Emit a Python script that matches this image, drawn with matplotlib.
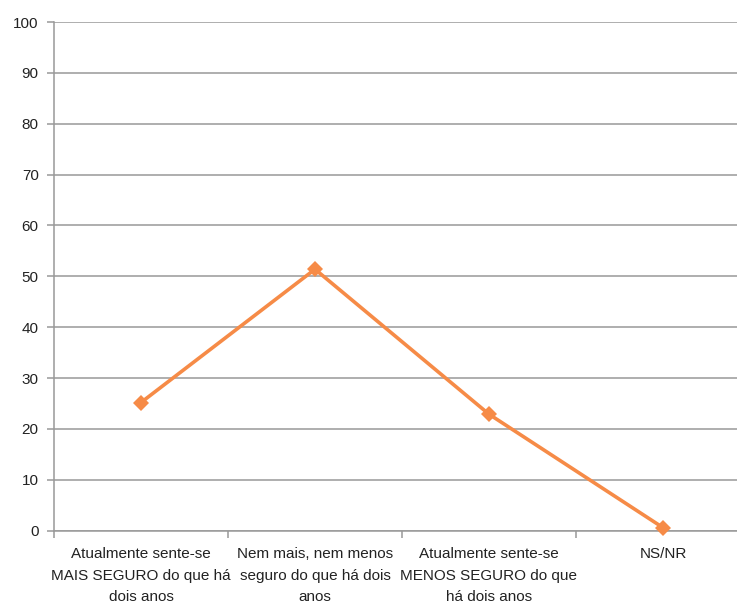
import matplotlib
matplotlib.use("Agg")
import matplotlib.pyplot as plt
import numpy as np

categories = [
    "Atualmente sente-se\nMAIS SEGURO do que há\ndois anos",
    "Nem mais, nem menos\nseguro do que há dois\nanos",
    "Atualmente sente-se\nMENOS SEGURO do que\nhá dois anos",
    "NS/NR",
]
values = [25.2, 51.4, 22.9, 0.6]
y_ticks = [0, 10, 20, 30, 40, 50, 60, 70, 80, 90, 100]

plt.rcParams["font.family"] = ["Liberation Sans", "DejaVu Sans"]

fig = plt.figure(figsize=(7.37, 6.03), dpi=100)
ax = fig.add_axes([54 / 737, 72.3 / 603, 696 / 737, 508.7 / 603])

x = np.arange(len(categories))
ax.plot(x, values, color="#F68B47", linewidth=2.6, marker="D",
        markersize=8, markeredgewidth=0, clip_on=False, zorder=3)

ax.set_xlim(-0.5, len(categories) - 0.5)
ax.set_ylim(0, 100)
ax.set_yticks(y_ticks)
ax.set_yticklabels([str(t) for t in y_ticks])

ax.set_xticks(x)
ax.set_xticklabels(categories, linespacing=1.65)
ax.set_xticks(np.arange(len(categories) + 1) - 0.5, minor=True)

ax.grid(axis="y", color="#999999", linewidth=1.1, zorder=0)
ax.set_axisbelow(True)

for side in ("top", "right"):
    ax.spines[side].set_visible(False)
for side in ("left", "bottom"):
    ax.spines[side].set_color("#999999")
    ax.spines[side].set_linewidth(1.1)

ax.tick_params(axis="y", length=5, color="#999999", width=1.1,
               labelsize=11, labelcolor="#222222", pad=6)
ax.tick_params(axis="x", which="major", length=0, labelsize=11,
               labelcolor="#222222", pad=12)
ax.tick_params(axis="x", which="minor", length=5, color="#999999", width=1.1)

fig.savefig("out.png", dpi=100)
